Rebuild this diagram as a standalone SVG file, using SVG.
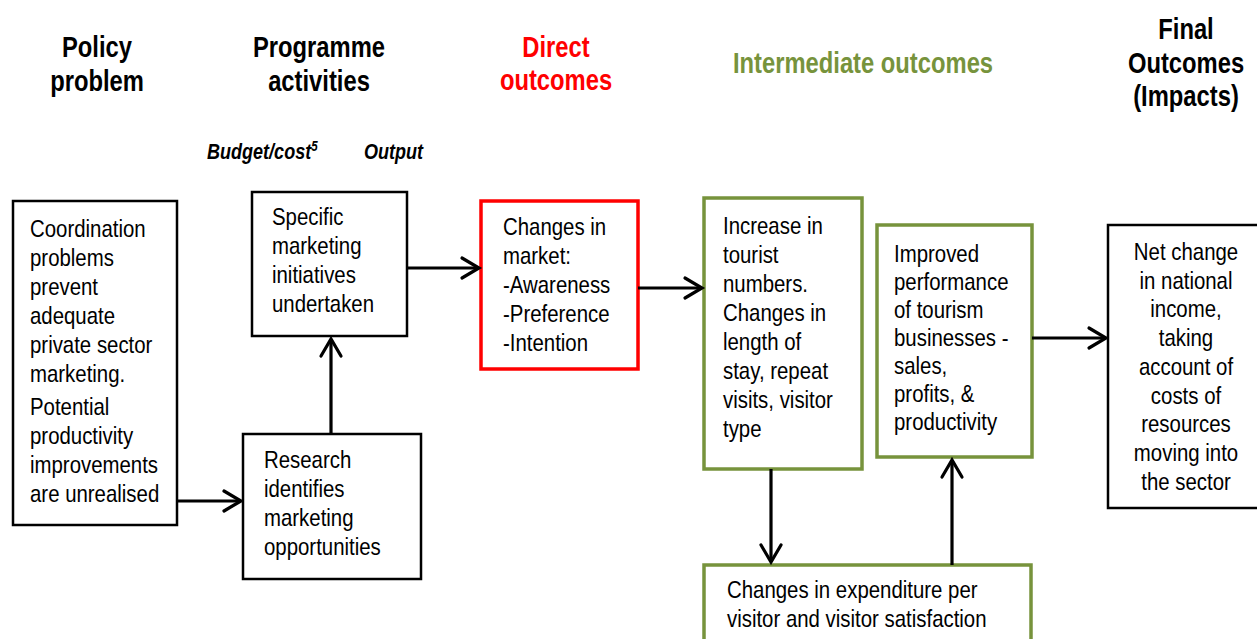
<svg xmlns="http://www.w3.org/2000/svg" width="1257" height="639" viewBox="0 0 1257 639">
<style>
  text { font-family: "Liberation Sans", Arial, sans-serif; }
  .body { font-size: 24px; fill: #000; }
  .hdr { font-size: 29px; font-weight: bold; text-anchor: middle; fill: #000; }
  .sub { font-size: 22px; font-weight: bold; font-style: italic; fill: #000; }
  .red { fill: #FF0000; }
  .grn { fill: #77933C; }
  .mid { text-anchor: middle; }
  .bk { fill: #fff; stroke: #000; stroke-width: 2.5; }
  .rb { fill: #fff; stroke: #FF0000; stroke-width: 3.5; }
  .gb { fill: #fff; stroke: #77933C; stroke-width: 3.5; }
  .conn line { stroke: #000; stroke-width: 3.2; }
  .conn polyline { fill: none; stroke: #000; stroke-width: 3.2; stroke-linecap: round; stroke-linejoin: miter; }
</style>

<g id="headers">
  <g transform="translate(97 0) scale(0.82 1)">
    <text class="hdr" x="0" y="57">Policy</text>
    <text class="hdr" x="0" y="91">problem</text>
  </g>
  <g transform="translate(319 0) scale(0.82 1)">
    <text class="hdr" x="0" y="57">Programme</text>
    <text class="hdr" x="0" y="91">activities</text>
  </g>
  <g transform="translate(556 0) scale(0.82 1)">
    <text class="hdr red" x="0" y="57">Direct</text>
    <text class="hdr red" x="0" y="90">outcomes</text>
  </g>
  <g transform="translate(863 0) scale(0.82 1)">
    <text class="hdr grn" x="0" y="73">Intermediate outcomes</text>
  </g>
  <g transform="translate(1186 0) scale(0.82 1)">
    <text class="hdr" x="0" y="39">Final</text>
    <text class="hdr" x="0" y="73">Outcomes</text>
    <text class="hdr" x="0" y="106">(Impacts)</text>
  </g>
  <g transform="translate(207 0) scale(0.82 1)">
    <text class="sub" x="0" y="159">Budget/cost<tspan font-size="14" dy="-8">5</tspan></text>
  </g>
  <g transform="translate(364 0) scale(0.82 1)">
    <text class="sub" x="0" y="159">Output</text>
  </g>
</g>

<g id="node-coordination">
  <rect class="bk" x="13" y="201" width="164" height="324"/>
  <g transform="translate(30 0) scale(0.85 1)">
    <text class="body" x="0" y="237">Coordination</text>
    <text class="body" x="0" y="266">problems</text>
    <text class="body" x="0" y="295">prevent</text>
    <text class="body" x="0" y="324">adequate</text>
    <text class="body" x="0" y="353">private sector</text>
    <text class="body" x="0" y="382">marketing.</text>
    <text class="body" x="0" y="415">Potential</text>
    <text class="body" x="0" y="444">productivity</text>
    <text class="body" x="0" y="473">improvements</text>
    <text class="body" x="0" y="502">are unrealised</text>
  </g>
</g>

<g id="node-specific">
  <rect class="bk" x="252" y="192" width="155" height="144"/>
  <g transform="translate(272 0) scale(0.85 1)">
    <text class="body" x="0" y="225">Specific</text>
    <text class="body" x="0" y="254">marketing</text>
    <text class="body" x="0" y="283">initiatives</text>
    <text class="body" x="0" y="312">undertaken</text>
  </g>
</g>

<g id="node-research">
  <rect class="bk" x="243" y="434" width="178" height="145"/>
  <g transform="translate(264 0) scale(0.85 1)">
    <text class="body" x="0" y="468">Research</text>
    <text class="body" x="0" y="497">identifies</text>
    <text class="body" x="0" y="526">marketing</text>
    <text class="body" x="0" y="555">opportunities</text>
  </g>
</g>

<g id="node-market">
  <rect class="rb" x="481" y="201" width="157" height="168"/>
  <g transform="translate(503 0) scale(0.85 1)">
    <text class="body" x="0" y="235">Changes in</text>
    <text class="body" x="0" y="264">market:</text>
    <text class="body" x="0" y="293">-Awareness</text>
    <text class="body" x="0" y="322">-Preference</text>
    <text class="body" x="0" y="351">-Intention</text>
  </g>
</g>

<g id="node-tourist">
  <rect class="gb" x="704" y="198" width="158" height="271"/>
  <g transform="translate(723 0) scale(0.85 1)">
    <text class="body" x="0" y="234">Increase in</text>
    <text class="body" x="0" y="263">tourist</text>
    <text class="body" x="0" y="292">numbers.</text>
    <text class="body" x="0" y="321">Changes in</text>
    <text class="body" x="0" y="350">length of</text>
    <text class="body" x="0" y="379">stay, repeat</text>
    <text class="body" x="0" y="408">visits, visitor</text>
    <text class="body" x="0" y="437">type</text>
  </g>
</g>

<g id="node-performance">
  <rect class="gb" x="877" y="225" width="155" height="232"/>
  <g transform="translate(894 0) scale(0.85 1)">
    <text class="body" x="0" y="262">Improved</text>
    <text class="body" x="0" y="290">performance</text>
    <text class="body" x="0" y="318">of tourism</text>
    <text class="body" x="0" y="346">businesses -</text>
    <text class="body" x="0" y="374">sales,</text>
    <text class="body" x="0" y="402">profits, &amp;</text>
    <text class="body" x="0" y="430">productivity</text>
  </g>
</g>

<g id="node-expenditure">
  <rect class="gb" x="704" y="565" width="327" height="90"/>
  <g transform="translate(727 0) scale(0.85 1)">
    <text class="body" x="0" y="598">Changes in expenditure per</text>
    <text class="body" x="0" y="627">visitor and visitor satisfaction</text>
  </g>
</g>

<g id="node-impact">
  <rect class="bk" x="1108" y="225" width="152" height="283"/>
  <g transform="translate(1186 0) scale(0.85 1)">
    <text class="body mid" x="0" y="260">Net change</text>
    <text class="body mid" x="0" y="289">in national</text>
    <text class="body mid" x="0" y="317">income,</text>
    <text class="body mid" x="0" y="346">taking</text>
    <text class="body mid" x="0" y="375">account of</text>
    <text class="body mid" x="0" y="404">costs of</text>
    <text class="body mid" x="0" y="432">resources</text>
    <text class="body mid" x="0" y="461">moving into</text>
    <text class="body mid" x="0" y="490">the sector</text>
  </g>
</g>

<g id="connectors" class="conn">
  <!-- Coordination -> Research -->
  <line x1="177" y1="501" x2="241" y2="501"/>
  <polyline points="224,491 241,501 224,511"/>
  <!-- Research -> Specific -->
  <line x1="331" y1="434" x2="331" y2="339"/>
  <polyline points="321,356 331,339 341,356"/>
  <!-- Specific -> Market -->
  <line x1="407" y1="268" x2="479" y2="268"/>
  <polyline points="462,258 479,268 462,278"/>
  <!-- Market -> Tourist -->
  <line x1="638" y1="288" x2="702" y2="288"/>
  <polyline points="685,278 702,288 685,298"/>
  <!-- Tourist -> Expenditure -->
  <line x1="771" y1="469" x2="771" y2="562"/>
  <polyline points="761,545 771,562 781,545"/>
  <!-- Expenditure -> Performance -->
  <line x1="952" y1="565" x2="952" y2="460"/>
  <polyline points="942,477 952,460 962,477"/>
  <!-- Performance -> Impact -->
  <line x1="1032" y1="338" x2="1106" y2="338"/>
  <polyline points="1089,328 1106,338 1089,348"/>
</g>
</svg>
